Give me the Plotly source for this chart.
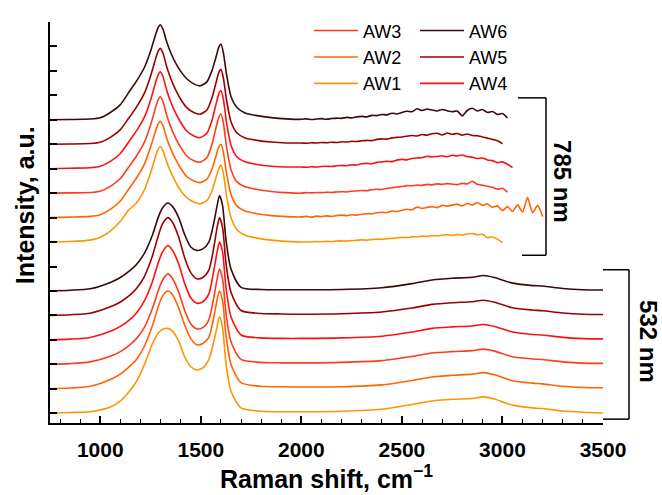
import plotly.graph_objects as go

# ---------------- data ----------------
names = ["AW1", "AW2", "AW3", "AW4", "AW5", "AW6"]
colors = ["#FF9500", "#FF6400", "#FF3C1E", "#FF1010", "#990000", "#3A0A0A"]

# 532 nm spectra (values relative to each trace's own baseline)
x532 = [750, 850, 950, 1050, 1100, 1150, 1180, 1220, 1260, 1290, 1310, 1336, 1360, 1390,
        1420, 1450, 1480, 1510, 1540, 1565, 1580, 1593, 1608, 1625, 1650, 1700, 1800, 1900,
        2000, 2200, 2400, 2550, 2650, 2750, 2850, 2905, 2960, 3050, 3150, 3200, 3300, 3400, 3500]
aw1_532 = [0.00, 0.03, 0.06, 0.25, 0.50, 0.95, 1.30, 2.00, 2.85, 3.30, 3.43, 3.47, 3.35, 2.95,
           2.30, 1.90, 1.77, 1.85, 2.20, 2.95, 3.50, 3.94, 3.50, 2.05, 0.90, 0.22, 0.08, 0.06,
           0.06, 0.08, 0.16, 0.36, 0.50, 0.57, 0.60, 0.67, 0.58, 0.33, 0.22, 0.19, 0.09, 0.04, 0.01]
aw2_532 = [0.00, 0.03, 0.10, 0.38, 0.60, 0.95, 1.20, 1.75, 2.60, 3.40, 3.80, 4.00, 3.85, 3.30,
           2.60, 2.05, 1.80, 1.85, 2.10, 2.95, 3.60, 4.00, 3.60, 2.20, 1.00, 0.25, 0.10, 0.08,
           0.07, 0.08, 0.16, 0.34, 0.48, 0.55, 0.60, 0.66, 0.57, 0.33, 0.23, 0.20, 0.10, 0.05, 0.04]
aw3_532 = [0.00, 0.03, 0.10, 0.33, 0.52, 0.82, 1.05, 1.52, 2.30, 3.05, 3.45, 3.70, 3.50, 2.95,
           2.20, 1.65, 1.45, 1.50, 1.82, 2.75, 3.45, 3.90, 3.50, 2.10, 0.92, 0.20, 0.08, 0.06,
           0.06, 0.08, 0.15, 0.32, 0.46, 0.52, 0.56, 0.62, 0.54, 0.31, 0.22, 0.20, 0.10, 0.05, 0.04]
aw4_532 = [0.00, 0.03, 0.10, 0.35, 0.55, 0.85, 1.10, 1.60, 2.40, 3.20, 3.60, 3.86, 3.65, 3.10,
           2.30, 1.72, 1.50, 1.56, 1.88, 2.85, 3.55, 4.00, 3.60, 2.15, 0.95, 0.20, 0.08, 0.06,
           0.06, 0.08, 0.15, 0.32, 0.47, 0.53, 0.57, 0.63, 0.55, 0.32, 0.22, 0.20, 0.10, 0.05, 0.04]
aw5_532 = [0.00, 0.03, 0.09, 0.35, 0.55, 0.85, 1.10, 1.60, 2.45, 3.30, 3.75, 4.00, 3.80, 3.20,
           2.35, 1.75, 1.50, 1.55, 1.85, 2.80, 3.55, 4.00, 3.60, 2.15, 0.95, 0.20, 0.08, 0.06,
           0.05, 0.07, 0.14, 0.30, 0.45, 0.52, 0.56, 0.62, 0.54, 0.31, 0.22, 0.19, 0.10, 0.05, 0.04]
aw6_532 = [0.00, 0.03, 0.09, 0.35, 0.55, 0.85, 1.08, 1.55, 2.30, 3.05, 3.40, 3.60, 3.45, 3.00,
           2.30, 1.80, 1.66, 1.72, 2.00, 2.80, 3.45, 3.90, 3.50, 2.10, 0.90, 0.15, 0.06, 0.05,
           0.05, 0.06, 0.13, 0.30, 0.45, 0.52, 0.56, 0.63, 0.55, 0.32, 0.22, 0.20, 0.10, 0.05, 0.04]

# 785 nm spectra: first-order region ...
x785_main = [750, 850, 950, 1000, 1050, 1100, 1140, 1180, 1220, 1250, 1270, 1285, 1298, 1312,
             1330, 1350, 1375, 1400, 1430, 1465, 1497, 1530, 1555, 1575, 1590, 1600, 1612, 1628,
             1650, 1680, 1720, 1780, 1850, 1925]
aw1_785_main = [0.00, 0.02, 0.08, 0.20, 0.45, 0.85, 1.30, 1.60, 2.15, 2.82, 3.36, 3.74, 3.90, 3.74,
                3.28, 2.88, 2.45, 2.10, 1.82, 1.64, 1.57, 1.70, 2.08, 2.62, 3.02, 3.15, 2.82, 1.90,
                1.00, 0.50, 0.28, 0.16, 0.08, 0.03]
aw2_785_main = [0.00, 0.02, 0.05, 0.12, 0.34, 0.68, 1.15, 1.62, 2.20, 2.88, 3.40, 3.78, 3.94, 3.76,
                3.26, 2.82, 2.38, 2.02, 1.68, 1.50, 1.43, 1.57, 1.98, 2.50, 2.90, 3.00, 2.68, 1.80,
                0.95, 0.47, 0.27, 0.16, 0.08, 0.04]
aw3_785_main = [0.00, 0.01, 0.03, 0.08, 0.28, 0.60, 1.05, 1.52, 2.10, 2.78, 3.36, 3.76, 3.94, 3.74,
                3.20, 2.72, 2.25, 1.87, 1.52, 1.33, 1.27, 1.45, 1.98, 2.66, 3.12, 3.24, 2.88, 1.90,
                0.96, 0.46, 0.26, 0.15, 0.07, 0.02]
aw4_785_main = [0.00, 0.02, 0.04, 0.10, 0.30, 0.62, 1.08, 1.55, 2.12, 2.80, 3.38, 3.78, 3.96, 3.76,
                3.22, 2.74, 2.27, 1.89, 1.54, 1.34, 1.27, 1.45, 1.96, 2.62, 3.08, 3.20, 2.85, 1.88,
                0.96, 0.48, 0.28, 0.17, 0.10, 0.07]
aw5_785_main = [0.00, 0.01, 0.03, 0.08, 0.28, 0.60, 1.05, 1.52, 2.10, 2.78, 3.35, 3.75, 3.92, 3.72,
                3.18, 2.70, 2.22, 1.84, 1.50, 1.30, 1.23, 1.40, 1.88, 2.50, 2.95, 3.07, 2.72, 1.80,
                0.92, 0.46, 0.26, 0.16, 0.09, 0.05]
aw6_785_main = [0.00, 0.01, 0.03, 0.08, 0.30, 0.62, 1.10, 1.58, 2.15, 2.80, 3.35, 3.72, 3.89, 3.70,
                3.20, 2.75, 2.32, 1.98, 1.68, 1.47, 1.39, 1.55, 2.00, 2.55, 2.98, 3.10, 2.75, 1.85,
                0.95, 0.50, 0.28, 0.17, 0.09, 0.04]

# ... and the noisy second-order tail (sampled every 25 cm-1 from 2000)
x785_tail = [2000, 2025, 2050, 2075, 2100, 2125, 2150, 2175, 2200, 2225, 2250, 2275, 2300, 2325,
             2350, 2375, 2400, 2425, 2450, 2475, 2500, 2525, 2550, 2575, 2600, 2625, 2650, 2675,
             2700, 2725, 2750, 2775, 2800, 2825, 2850, 2875, 2900, 2925, 2950, 2975, 3000, 3025,
             3050, 3075, 3100, 3125, 3150, 3175, 3200]
aw1_785_tail = [0.00, 0.01, 0.00, 0.02, 0.01, 0.03, 0.02, 0.04, 0.05, 0.04, 0.06, 0.07, 0.09, 0.08,
                0.10, 0.12, 0.11, 0.14, 0.15, 0.17, 0.19, 0.18, 0.22, 0.21, 0.24, 0.23, 0.26, 0.25,
                0.28, 0.30, 0.27, 0.31, 0.29, 0.33, 0.35, 0.30, 0.32, 0.18, 0.22, 0.12, -0.02]
aw2_785_tail = [0.03, 0.05, 0.02, 0.06, 0.04, 0.07, 0.05, 0.08, 0.10, 0.08, 0.12, 0.10, 0.14, 0.16,
                0.15, 0.20, 0.22, 0.20, 0.27, 0.25, 0.30, 0.34, 0.32, 0.43, 0.38, 0.42, 0.45, 0.41,
                0.50, 0.47, 0.51, 0.55, 0.48, 0.58, 0.52, 0.62, 0.50, 0.56, 0.42, 0.48, 0.29, 0.45,
                0.25, 0.52, 0.23, 0.82, 0.20, 0.50, 0.04]
aw3_785_tail = [0.00, 0.02, 0.01, 0.03, 0.02, 0.04, 0.03, 0.05, 0.06, 0.05, 0.08, 0.09, 0.11, 0.10,
                0.14, 0.16, 0.15, 0.20, 0.22, 0.25, 0.27, 0.31, 0.30, 0.33, 0.32, 0.36, 0.34, 0.38,
                0.36, 0.39, 0.37, 0.35, 0.40, 0.38, 0.49, 0.36, 0.32, 0.28, 0.24, 0.16, 0.20, 0.04]
aw4_785_tail = [0.07, 0.06, 0.08, 0.07, 0.09, 0.10, 0.09, 0.12, 0.13, 0.12, 0.16, 0.15, 0.20, 0.22,
                0.20, 0.26, 0.28, 0.30, 0.29, 0.35, 0.38, 0.36, 0.42, 0.44, 0.45, 0.51, 0.48, 0.50,
                0.53, 0.49, 0.55, 0.52, 0.56, 0.50, 0.47, 0.42, 0.44, 0.36, 0.33, 0.25, 0.28, 0.18,
                0.05]
aw5_785_tail = [0.05, 0.04, 0.06, 0.05, 0.07, 0.06, 0.08, 0.07, 0.10, 0.09, 0.12, 0.11, 0.14, 0.16,
                0.15, 0.20, 0.22, 0.21, 0.26, 0.28, 0.30, 0.33, 0.36, 0.34, 0.40, 0.37, 0.43, 0.45,
                0.38, 0.46, 0.41, 0.44, 0.37, 0.42, 0.36, 0.35, 0.30, 0.25, 0.20, 0.14, 0.02]
aw6_785_tail = [0.02, 0.04, 0.01, 0.03, 0.05, 0.02, 0.05, 0.07, 0.06, 0.10, 0.08, 0.12, 0.14, 0.12,
                0.18, 0.17, 0.22, 0.20, 0.27, 0.24, 0.30, 0.35, 0.33, 0.45, 0.38, 0.44, 0.40, 0.36,
                0.42, 0.37, 0.33, 0.36, 0.16, 0.38, 0.47, 0.36, 0.42, 0.30, 0.34, 0.22, 0.26, 0.08]

# vertical stacking offsets (one unit = one y tick)
offset_532 = [0, 1, 2, 3, 4, 5]
offset_785 = [7, 8, 9, 10, 11, 12]

spec_532 = [aw1_532, aw2_532, aw3_532, aw4_532, aw5_532, aw6_532]
main_785 = [aw1_785_main, aw2_785_main, aw3_785_main, aw4_785_main, aw5_785_main, aw6_785_main]
tail_785 = [aw1_785_tail, aw2_785_tail, aw3_785_tail, aw4_785_tail, aw5_785_tail, aw6_785_tail]

# legend layout: column 1 = AW3, AW2, AW1 ; column 2 = AW6, AW5, AW4
legend_of = {"AW1": "legend", "AW2": "legend", "AW3": "legend",
             "AW4": "legend2", "AW5": "legend2", "AW6": "legend2"}
rank_of = {"AW3": 1, "AW2": 2, "AW1": 3, "AW6": 1, "AW5": 2, "AW4": 3}

FONT = "Liberation Sans, Arial, sans-serif"

fig = go.Figure()

for i, n in enumerate(names):
    xs = x785_main + x785_tail[:len(tail_785[i])]
    ys = [v + offset_785[i] for v in main_785[i] + tail_785[i]]
    fig.add_trace(go.Scatter(x=xs, y=ys, mode="lines", name=n, legendgroup=n,
                             showlegend=False,
                             line=dict(color=colors[i], width=1.6, shape="spline", smoothing=0.6)))

for i, n in enumerate(names):
    ys = [v + offset_532[i] for v in spec_532[i]]
    fig.add_trace(go.Scatter(x=x532, y=ys, mode="lines", name=n, legendgroup=n,
                             legend=legend_of[n], legendrank=rank_of[n],
                             line=dict(color=colors[i], width=1.6, shape="spline", smoothing=0.7)))

W, H = 662, 495
ML, MR, MT, MB = 50, 59, 17, 62
PW, PH = W - ML - MR, H - MT - MB


def px(xp):
    return (xp - ML) / PW


def py(yp):
    return (H - MB - yp) / PH


shapes = []
for (xv, yt, yb, xa_t, xa_b) in [(546, 95.7, 259, 518, 522), (629, 274, 429, 603, 603)]:
    shapes.append(dict(type="line", xref="paper", yref="paper", x0=px(xv), x1=px(xv),
                       y0=py(yt), y1=py(yb), line=dict(color="black", width=1.5)))
    shapes.append(dict(type="line", xref="paper", yref="paper", x0=px(xa_t), x1=px(xv),
                       y0=py(yt), y1=py(yt), line=dict(color="black", width=1.5)))
    shapes.append(dict(type="line", xref="paper", yref="paper", x0=px(xa_b), x1=px(xv),
                       y0=py(yb), y1=py(yb), line=dict(color="black", width=1.5)))

annotations = [
    dict(text="<b>785 nm</b>", xref="paper", yref="paper", x=px(563), y=py(182),
         textangle=90, showarrow=False, font=dict(family=FONT, size=24, color="black"),
         xanchor="center", yanchor="middle"),
    dict(text="<b>532 nm</b>", xref="paper", yref="paper", x=px(649), y=py(348),
         textangle=90, showarrow=False, font=dict(family=FONT, size=24, color="black"),
         xanchor="center", yanchor="middle"),
    dict(text="<b>Intensity, a.u.</b>", xref="paper", yref="paper", x=px(25), y=py(207),
         textangle=-90, showarrow=False, font=dict(family=FONT, size=25, color="black"),
         xanchor="center", yanchor="middle"),
]

legend_common = dict(font=dict(family=FONT, size=18, color="black"), bgcolor="rgba(0,0,0,0)",
                     borderwidth=0, traceorder="normal", orientation="v",
                     xanchor="left", yanchor="top", itemwidth=44, tracegroupgap=0)

fig.update_layout(
    width=W, height=H,
    margin=dict(l=ML, r=MR, t=MT, b=MB, pad=0),
    paper_bgcolor="white", plot_bgcolor="white",
    font=dict(family=FONT, color="black"),
    showlegend=True,
    legend=dict(x=px(309), y=py(7), **legend_common),
    legend2=dict(x=px(415), y=py(7), **legend_common),
    shapes=shapes,
    annotations=annotations,
    xaxis=dict(range=[750, 3500], tick0=500, dtick=500, ticks="inside", ticklen=7,
               tickwidth=1.5, tickcolor="black", showline=True, linecolor="black",
               linewidth=2, showgrid=False, zeroline=False,
               minor=dict(dtick=100, ticks="inside", ticklen=4, tickwidth=1.2,
                          tickcolor="black", showgrid=False),
               tickfont=dict(family=FONT, size=21, color="black", weight="bold"),
               ticklabelstandoff=7,
               title=dict(text="<b>Raman shift, cm<sup>−1</sup></b>",
                          font=dict(family=FONT, size=25, color="black"), standoff=4)),
    yaxis=dict(range=[-0.4, 16], tick0=0, dtick=1, ticks="inside", ticklen=7,
               tickwidth=1.5, tickcolor="black", showline=True, linecolor="black",
               linewidth=2, showgrid=False, zeroline=False, showticklabels=False),
)

fig.write_html("out.html")
